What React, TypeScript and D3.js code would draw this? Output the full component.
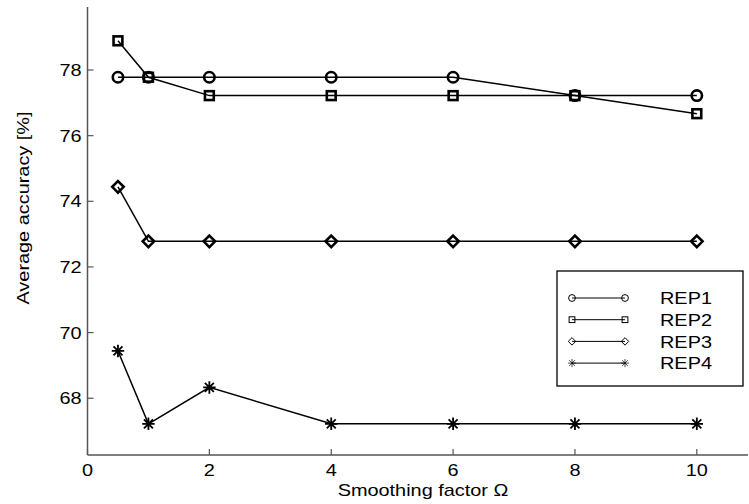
import React from "react";
import * as d3 from "d3";

const xValues = [0.5, 1, 2, 4, 6, 8, 10];
const rep1 = [77.78, 77.78, 77.78, 77.78, 77.78, 77.22, 77.22];
const rep2 = [78.89, 77.78, 77.22, 77.22, 77.22, 77.22, 76.67];
const rep3 = [74.44, 72.78, 72.78, 72.78, 72.78, 72.78, 72.78];
const rep4 = [69.44, 67.22, 68.33, 67.22, 67.22, 67.22, 67.22];
const seriesNames = ["REP1", "REP2", "REP3", "REP4"];
const markerKinds = ["circle", "square", "diamond", "star"];
const xTicks = [0, 2, 4, 6, 8, 10];
const yTicks = [68, 70, 72, 74, 76, 78];

const W = 749;
const H = 504;
const left = 87.5;
const right = 748;
const top = 7;
const bottom = 455;
const STRETCH = 1.17;

function T({
  x,
  y,
  children,
  anchor = "start",
  size = 17,
  rotate = 0,
  dy = "0",
}: {
  x: number;
  y: number;
  children: React.ReactNode;
  anchor?: string;
  size?: number;
  rotate?: number;
  dy?: string;
}) {
  return (
    <text
      transform={`translate(${x},${y})${rotate ? ` rotate(${rotate})` : ""} scale(${STRETCH},1)`}
      x={0}
      y={0}
      dy={dy}
      textAnchor={anchor as any}
      fontSize={size}
      fill="#000"
    >
      {children}
    </text>
  );
}

function Marker({ kind, x, y, s, sw }: { kind: string; x: number; y: number; s: number; sw: number }) {
  const common = { fill: "none", stroke: "#000", strokeWidth: sw };
  if (kind === "circle") return <circle cx={x} cy={y} r={s} {...common} />;
  if (kind === "square")
    return <rect x={x - s * 0.85} y={y - s * 0.85} width={s * 1.7} height={s * 1.7} {...common} />;
  if (kind === "diamond")
    return (
      <path d={`M${x},${y - s * 1.1}L${x + s * 1.1},${y}L${x},${y + s * 1.1}L${x - s * 1.1},${y}Z`} {...common} />
    );
  const a = s * 1.2;
  const b = a * 0.72;
  return (
    <path
      d={`M${x - a},${y}L${x + a},${y}M${x},${y - a}L${x},${y + a}M${x - b},${y - b}L${x + b},${y + b}M${x - b},${y + b}L${x + b},${y - b}`}
      {...common}
      strokeWidth={sw * 0.7}
    />
  );
}

export default function App() {
  const x = d3.scaleLinear().domain([0, 10.84]).range([left, right]);
  const y = d3.scaleLinear().domain([66.27, 79.92]).range([bottom, top]);
  const series = [rep1, rep2, rep3, rep4];
  const line = d3
    .line<number>()
    .x((_, i) => x(xValues[i]))
    .y((d) => y(d));
  const font = "'Liberation Sans', Arial, Helvetica, sans-serif";
  const legX = 557;
  const legY = 271;
  const legW = 186;
  const legH = 115;
  return (
    <svg width={W} height={H} style={{ position: "absolute", left: 0, top: 0, background: "#fff" }} fontFamily={font}>
      <rect width={W} height={H} fill="#fff" />
      {/* axes */}
      <line x1={left} y1={top} x2={left} y2={bottom} stroke="#555" strokeWidth={1.5} />
      <line x1={left} y1={bottom} x2={right} y2={bottom} stroke="#555" strokeWidth={1.5} />
      {yTicks.map((t) => (
        <g key={"y" + t}>
          <line x1={left} x2={left + 6} y1={y(t)} y2={y(t)} stroke="#555" strokeWidth={1.2} />
          <T x={left - 6} y={y(t)} dy="0.36em" anchor="end">
            {t}
          </T>
        </g>
      ))}
      {xTicks.map((t) => (
        <g key={"x" + t}>
          <line x1={x(t)} x2={x(t)} y1={bottom} y2={bottom - 6} stroke="#555" strokeWidth={1.2} />
          <T x={x(t)} y={476} anchor="middle">
            {t}
          </T>
        </g>
      ))}
      <T x={423} y={496} anchor="middle">
        Smoothing factor Ω
      </T>
      <T x={29} y={208} anchor="middle" rotate={-90}>
        Average accuracy [%]
      </T>
      {/* series */}
      {series.map((s, si) => (
        <g key={"s" + si}>
          <path d={line(s) || ""} fill="none" stroke="#000" strokeWidth={1.5} />
          {s.map((v, i) => (
            <Marker key={i} kind={markerKinds[si]} x={x(xValues[i])} y={y(v)} s={5.2} sw={2.6} />
          ))}
        </g>
      ))}
      {/* legend */}
      <rect x={legX} y={legY} width={legW} height={legH} fill="#fff" stroke="#000" strokeWidth={1.3} />
      {seriesNames.map((n, i) => {
        const ly = 298 + i * 21.7;
        return (
          <g key={n}>
            <line x1={572} x2={625} y1={ly} y2={ly} stroke="#000" strokeWidth={1} />
            <Marker kind={markerKinds[i]} x={572} y={ly} s={3.4} sw={1} />
            <Marker kind={markerKinds[i]} x={625} y={ly} s={3.4} sw={1} />
            <T x={660} y={ly} dy="0.36em">
              {n}
            </T>
          </g>
        );
      })}
    </svg>
  );
}
